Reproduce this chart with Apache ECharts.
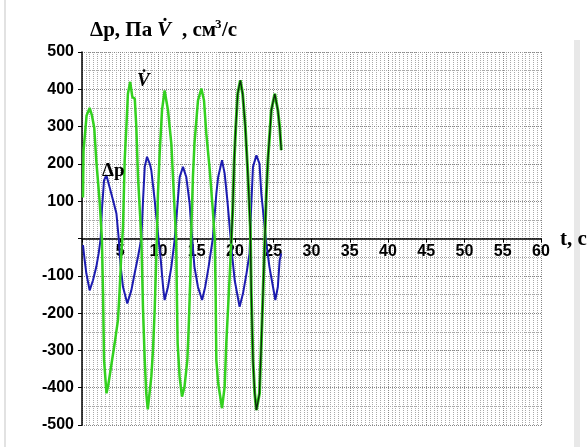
<!DOCTYPE html>
<html><head><meta charset="utf-8">
<script src="https://cdn.jsdelivr.net/npm/echarts/dist/echarts.min.js"></script>
<style>html,body{margin:0;padding:0;background:#fff}#c{width:587px;height:447px}</style>
</head><body><div id="c"></div>
<script>
// Flow rate V-dot, light green part (t, s ; cm3/s)
const flowT = [0.13,0.2,0.6,1.0,1.3,1.6,1.87,2.3,2.6,2.75,2.88,3.2,3.4,3.8,4.27,4.7,4.9,5.1,5.36,5.58,5.8,6.0,6.3,6.58,6.9,7.1,7.32,7.76,7.98,8.2,8.4,8.6,9.06,9.28,9.5,9.7,9.93,10.15,10.46,10.8,11.24,11.68,12.0,12.3,12.4,12.5,12.76,13.07,13.4,13.77,13.95,14.16,14.3,14.5,14.7,15.16,15.6,15.95,16.25,16.7,17.1,17.35,17.47,17.56,17.8,18.0,18.3,18.65,18.86,19.08,19.3,19.5];
const flowV = [110,235,330,350,330,297,208,101,0,-148,-325,-415,-397,-344,-281,-219,-147,-58,31,210,299,388,420,379,375,299,165,0,-192,-326,-415,-458,-371,-299,-192,-58,120,228,344,397,344,254,120,0,-147,-281,-371,-424,-397,-326,-237,-103,31,165,254,370,402,370,281,183,76,0,-147,-326,-388,-415,-455,-397,-281,-192,-103,-13];
// Flow rate V-dot, dark part
const flowT2 = [19.5,19.7,19.9,20.1,20.35,20.7,21.0,21.35,21.7,22.0,22.13,22.35,22.58,22.8,23.2,23.44,23.66,23.88,24.1,24.3,24.75,25.2,25.6,25.84,26.05];
const flowV2 = [-13,76,210,299,388,424,388,299,165,31,-147,-326,-415,-460,-415,-281,-147,-13,120,210,344,388,344,299,237];
// Pressure drop Δp (Pa)
const presT = [0.13,0.35,0.57,1.0,1.44,1.87,2.18,2.44,2.6,2.88,3.18,3.6,4.05,4.5,4.8,5.06,5.36,5.92,6.45,6.88,7.32,7.76,7.98,8.2,8.5,8.85,9.06,9.5,9.93,10.3,10.6,10.8,11.24,11.68,12.1,12.46,12.77,13.2,13.63,14.07,14.4,14.7,15.16,15.7,16.1,16.55,17.1,17.56,17.8,18.3,18.65,19.0,19.3,19.6,19.96,20.6,21.05,21.5,21.9,22.1,22.35,22.8,23.2,23.44,23.88,24.1,24.5,24.97,25.27,25.6,25.84,26.05];
const presV = [-18,-58,-94,-139,-112,-76,-40,0,76,156,170,138,103,67,0,-76,-130,-174,-139,-94,-49,0,103,192,219,201,183,103,13,-58,-130,-165,-130,-76,-5,85,165,192,165,94,0,-76,-130,-165,-130,-76,0,120,165,210,174,103,31,-40,-112,-183,-147,-94,-40,76,192,223,201,120,31,-13,-76,-130,-165,-130,-58,-40];
const xTicks = {min:0, max:60, step:5};
const yTicks = {min:-500, max:500, step:100};

const zip = (a,b) => a.map((t,i)=>[t,b[i]]);
const axisFont = {fontFamily:'Liberation Sans, Arial, sans-serif', fontWeight:'bold', fontSize:16, color:'#000'};
const serif = 'Liberation Serif, Times New Roman, serif';
const gridTop = 52, gridBottom = 22, H = 447;
const zeroOffset = -((H - gridTop - gridBottom) * (0 - yTicks.min) / (yTicks.max - yTicks.min));
const chart = echarts.init(document.getElementById('c'), null, {renderer:'canvas'});
chart.setOption({
  animation:false,
  backgroundColor:'#fff',
  grid:{left:82,right:46,top:gridTop,bottom:gridBottom},
  xAxis:{type:'value',min:xTicks.min,max:xTicks.max,interval:xTicks.step,position:'bottom',offset:zeroOffset,z:0,
    axisLine:{onZero:false,lineStyle:{color:'#000',width:1.5}},
    axisTick:{show:true,length:4,lineStyle:{color:'#000'}},
    axisLabel:Object.assign({margin:5,formatter:v=>v===0?'':String(v)},axisFont),
    splitLine:{show:true,lineStyle:{color:'#888',type:'dotted',width:1}},
    minorTick:{show:false,splitNumber:10},
    minorSplitLine:{show:true,lineStyle:{color:'#aaa',type:'dotted',width:1}}
  },
  yAxis:{type:'value',min:yTicks.min,max:yTicks.max,interval:yTicks.step,z:0,
    axisLine:{show:true,onZero:false,lineStyle:{color:'#000',width:1.5}},
    axisTick:{show:true,length:4,lineStyle:{color:'#000'}},
    axisLabel:Object.assign({margin:8,formatter:v=>v===0?'':String(v)},axisFont),
    splitLine:{show:true,lineStyle:{color:'#888',type:'dotted',width:1}},
    minorTick:{show:false,splitNumber:2},
    minorSplitLine:{show:true,lineStyle:{color:'#aaa',type:'dotted',width:1}}
  },
  series:[
    {type:'line',data:zip(presT,presV),symbol:'none',lineStyle:{color:'#1c1cb0',width:2},z:2},
    {type:'line',data:zip(flowT,flowV),symbol:'none',lineStyle:{color:'#33d11f',width:2.5},z:3},
    {type:'line',data:zip(flowT2,flowV2),symbol:'none',lineStyle:{color:'#33d11f',width:3},z:4},
    {type:'line',data:zip(flowT2,flowV2),symbol:'none',lineStyle:{color:'#0d2a0d',width:1.4},z:5}
  ],
  graphic:[
    {type:'rect',left:4,top:0,shape:{width:2,height:447},style:{fill:'#e2e2e2'},silent:true},
    {type:'rect',left:574,top:40,shape:{width:6,height:407},style:{fill:'#e8e8e8'},silent:true},
    {type:'text',x:90,y:31,style:{text:'Δp, Па',font:'bold 21px '+serif,fill:'#000',textVerticalAlign:'middle'}},
    {type:'text',x:157,y:31,style:{text:'V̇',font:'italic bold 21px '+serif,fill:'#000',textVerticalAlign:'middle'}},
    {type:'text',x:182,y:31,style:{text:', см',font:'bold 21px '+serif,fill:'#000',textVerticalAlign:'middle'}},
    {type:'text',x:215,y:25,style:{text:'3',font:'bold 13px '+serif,fill:'#000',textVerticalAlign:'middle'}},
    {type:'text',x:222,y:31,style:{text:'/с',font:'bold 21px '+serif,fill:'#000',textVerticalAlign:'middle'}},
    {type:'text',x:137,y:81,style:{text:'V̇',font:'italic bold 19px '+serif,fill:'#000',textVerticalAlign:'middle'},z:10},
    {type:'text',x:102,y:171,style:{text:'Δp',font:'bold 19px '+serif,fill:'#000',textVerticalAlign:'middle'},z:10},
    {type:'text',x:560,y:240,style:{text:'t, c',font:'bold 21px '+serif,fill:'#000',textVerticalAlign:'middle'},z:10}
  ]
});
</script></body></html>
